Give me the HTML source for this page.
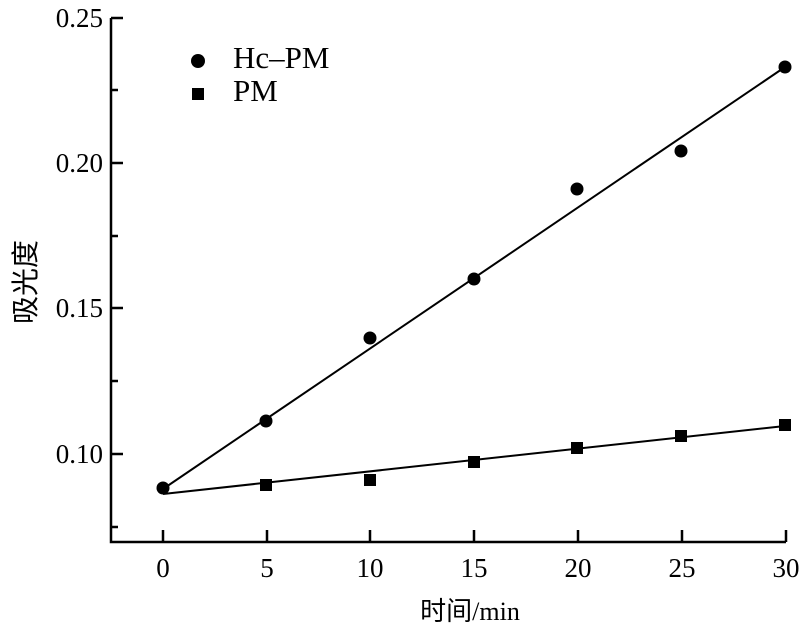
<!DOCTYPE html>
<html><head><meta charset="utf-8"><style>body{margin:0;background:#fff}</style></head><body>
<svg width="800" height="637" xmlns="http://www.w3.org/2000/svg" font-family="Liberation Serif, Noto Serif CJK SC, serif" font-size="27" fill="#000">
<g stroke="#000" stroke-width="2.5" fill="none">
<path d="M111,18 V542 H786"/>
<path d="M111,18 H123 M111,90 H118 M111,163 H123 M111,236 H118 M111,308 H123 M111,381 H118 M111,454 H123 M111,527 H118"/>
<path d="M163,542 V530 M267,542 V530 M370,542 V530 M474,542 V530 M578,542 V530 M682,542 V530 M786,542 V530"/>
<line x1="163" y1="489" x2="785" y2="67" stroke-width="2"/>
<line x1="163" y1="494" x2="785" y2="426" stroke-width="2"/>
</g>
<g text-anchor="end">
<text x="103" y="27">0.25</text><text x="103" y="172">0.20</text><text x="103" y="317">0.15</text><text x="103" y="463">0.10</text>
</g>
<g text-anchor="middle">
<text x="163" y="577">0</text><text x="267" y="577">5</text><text x="370" y="577">10</text><text x="474" y="577">15</text><text x="578" y="577">20</text><text x="682" y="577">25</text><text x="786" y="577">30</text>
<text x="470" y="620" font-family="Liberation Serif, Noto Sans CJK SC, sans-serif" font-size="26">时间/min</text>
<text transform="translate(35,282) rotate(-90)" font-family="Noto Sans CJK SC, sans-serif" font-size="28">吸光度</text>
</g>
<g>
<circle cx="163" cy="488" r="6.5"/><circle cx="266" cy="421" r="6.5"/><circle cx="370" cy="338" r="6.5"/><circle cx="474" cy="279" r="6.5"/><circle cx="577" cy="189" r="6.5"/><circle cx="681" cy="151" r="6.5"/><circle cx="785" cy="67" r="6.5"/>
<rect x="260" y="479" width="12" height="12"/><rect x="364" y="474" width="12" height="12"/><rect x="468" y="456" width="12" height="12"/><rect x="571" y="442" width="12" height="12"/><rect x="675" y="430" width="12" height="12"/><rect x="779" y="419" width="12" height="12"/>
<circle cx="198" cy="61" r="7"/><text x="233" y="68" font-size="31">Hc–PM</text>
<rect x="192" y="88" width="12" height="12"/><text x="233" y="101" font-size="31">PM</text>
</g>
</svg>
</body></html>
